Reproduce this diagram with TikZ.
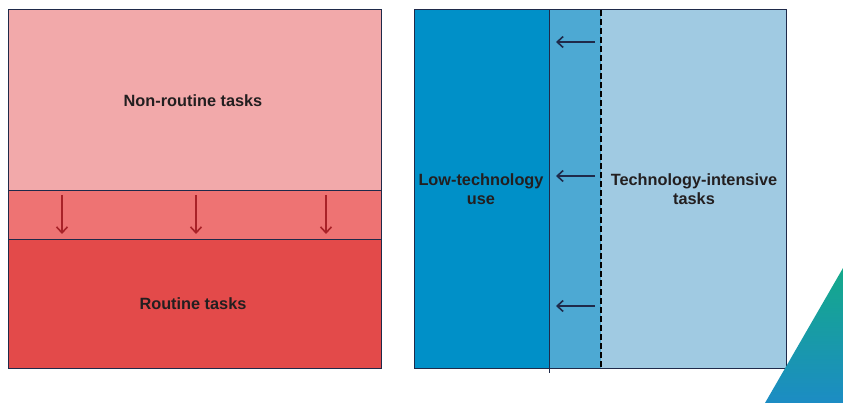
\documentclass[tikz,border=0pt]{standalone}
\usepackage{fontspec}
\setmainfont{Liberation Sans}
\usetikzlibrary{arrows.meta}
\definecolor{pinkL}{HTML}{F2A9AA}
\definecolor{pinkM}{HTML}{EE7373}
\definecolor{redD}{HTML}{E34A4A}
\definecolor{redA}{HTML}{A82228}
\definecolor{blueD}{HTML}{0090C8}
\definecolor{blueM}{HTML}{4DA9D3}
\definecolor{blueL}{HTML}{A0CAE2}
\definecolor{navy}{HTML}{1F2A4A}
\definecolor{txt}{HTML}{231F20}
\definecolor{gr}{HTML}{14A98A}
\definecolor{bl}{HTML}{1C8CC4}
\tikzset{
  panel/.style={draw=navy, line width=1pt},
  lbl/.style={font=\bfseries\fontsize{16.3}{19}\selectfont, text=txt, align=center},
  downarr/.style={draw=redA, line width=1.6pt, -{Straight Barb[length=6pt,width=11pt,line width=1.6pt]}},
  leftarr/.style={draw=navy, line width=1.6pt, -{Straight Barb[length=6pt,width=11pt,line width=1.6pt]}},
}
\begin{document}
\begin{tikzpicture}[x=1pt,y=-1pt]
\useasboundingbox (0,0) rectangle (843,403);
% left panel
\fill[pinkL] (8,10) rectangle (381,191);
\fill[pinkM] (8,191) rectangle (381,240);
\fill[redD] (8,240) rectangle (381,368);
\draw[panel] (8,10) rectangle (381,368);
\draw[panel] (8,191) -- (381,191);
\draw[panel] (8,240) -- (381,240);
\node[lbl] (nr) at (193,101) {Non-routine tasks};
\node[lbl] (rt) at (193,304) {Routine tasks};
\foreach \x/\n in {62/a,196/b,326/c}{
  \coordinate (s\n) at (\x,195);
  \coordinate (e\n) at (\x,234);
  \draw[downarr] (s\n) -- (e\n);
}
% right panel
\fill[blueD] (414,10) rectangle (549,368);
\fill[blueM] (549,10) rectangle (601,368);
\fill[blueL] (601,10) rectangle (786,368);
\draw[panel] (414,10) rectangle (786,368);
\coordinate (it) at (549,10);
\coordinate (ib) at (549,373);
\draw[navy, line width=0.7pt] (it) -- (ib);
\coordinate (dt) at (601,10);
\coordinate (db) at (601,368);
\draw[black, line width=1.8pt, dash pattern=on 6pt off 3pt] (dt) -- (db);
\node[lbl] (lt) at (481,189) {Low-technology\\use};
\node[lbl] (ti) at (694,189) {Technology-intensive\\tasks};
\foreach \y/\n in {42/a,176/b,306/c}{
  \coordinate (r\n) at (595,\y);
  \coordinate (l\n) at (556,\y);
  \draw[leftarr] (r\n) -- (l\n);
}
% corner decoration
\shade[top color=gr, bottom color=bl] (765,403) -- (843,268) -- (843,403) -- cycle;
\end{tikzpicture}
\end{document}
